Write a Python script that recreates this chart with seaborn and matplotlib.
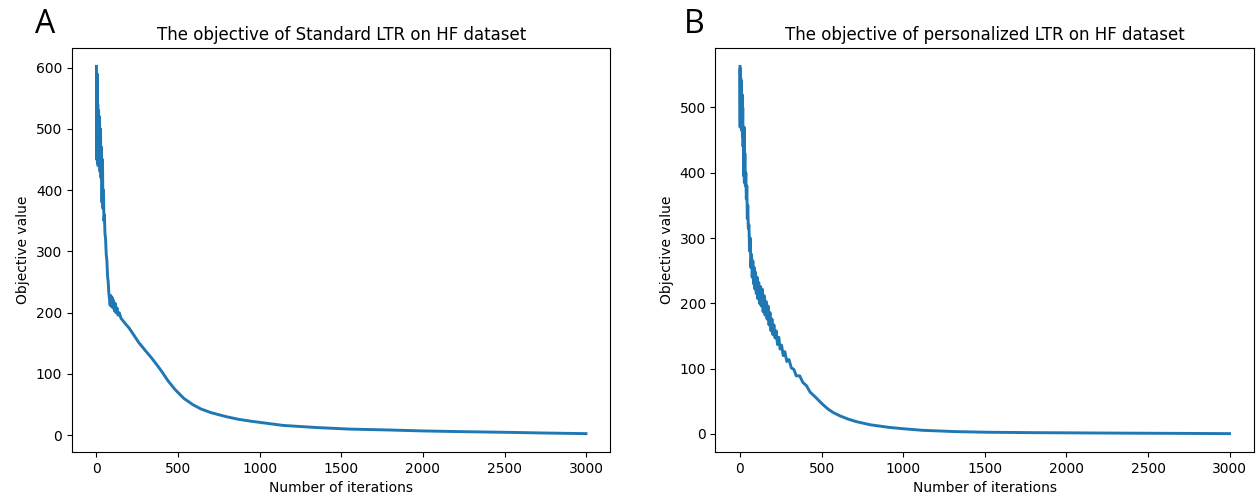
import matplotlib
matplotlib.use("Agg")
import matplotlib.pyplot as plt
import seaborn as sns

# panel A: standard LTR objective (noisy start)
std_iter = [0, 2, 4, 6, 8, 10, 13, 16, 19, 22, 25, 28, 31, 34, 37, 40, 43, 46, 49, 52,
            56, 60, 64, 68, 72, 76, 80, 84, 88, 92, 96, 100, 105, 110, 115, 120, 126, 132,
            140, 150, 165, 180, 200, 230, 260, 300, 335, 370, 400, 438, 480, 536, 590, 639,
            700, 742, 800, 870, 943, 1000, 1144, 1351, 1552, 1800, 2000, 2250, 2500, 2750, 2999]
std_obj = [602, 450, 590, 445, 540, 440, 530, 445, 520, 430, 500, 420, 470, 380, 450, 370, 400, 350, 360, 330,
           320, 295, 285, 260, 250, 232, 222, 212, 228, 210, 225, 208, 220, 203, 215, 200, 208, 196,
           200, 191, 186, 181, 175, 163, 151, 138, 127, 115, 104, 89, 75, 60, 50, 43,
           37, 34, 30, 26, 23, 21, 16, 12.5, 10, 8.5, 7, 5.8, 4.8, 3.6, 2.6]

# panel B: personalized LTR objective
per_iter = [0, 1, 2, 3, 5, 7, 9, 11, 13, 15, 17, 19, 21, 23, 25, 27, 30, 33, 36, 39,
            42, 45, 48, 51, 55, 59, 63, 67, 71, 75, 79, 83, 87, 91, 95, 100, 105, 110, 115,
            120, 125, 130, 136, 142, 148, 154, 160, 166, 172, 178, 184, 190, 196, 202, 208,
            215, 222, 230, 238, 246, 255, 265, 275, 287, 300, 315, 330, 345, 366, 385, 407,
            430, 460, 480, 508, 540, 570, 610, 660, 711, 800, 915, 1000, 1118, 1321, 1524,
            1800, 2100, 2400, 2700, 2999]
per_obj = [563, 470, 560, 480, 545, 470, 540, 465, 520, 455, 500, 440, 470, 395, 470, 385, 430, 380, 400, 360,
           380, 330, 350, 315, 320, 280, 300, 255, 275, 240, 265, 230, 255, 222, 248, 215, 240, 207, 232,
           200, 226, 196, 222, 187, 212, 182, 203, 176, 196, 167, 186, 158, 176, 152, 167,
           147, 158, 137, 148, 130, 136, 120, 126, 111, 114, 101, 99, 89, 89, 79, 74,
           64, 57, 52, 45, 38, 33, 28, 23, 19, 14, 10, 8, 5.6, 3.6, 2.6,
           2.0, 1.6, 1.2, 0.9, 0.5]

titles = ["The objective of Standard LTR on HF dataset",
          "The objective of personalized LTR on HF dataset"]
panel_letters = ["A", "B"]

fig, axes = plt.subplots(1, 2, figsize=(12.56, 5), dpi=100)
plt.subplots_adjust(left=0.0573, right=0.9984, bottom=0.096, top=0.904, wspace=0.195)

series = [(std_iter, std_obj), (per_iter, per_obj)]
for ax, (xs, ys), title in zip(axes, series, titles):
    sns.lineplot(x=xs, y=ys, ax=ax, color="#1f77b4", linewidth=2.1)
    ax.set_title(title, fontsize=12)
    ax.set_xlabel("Number of iterations")
    ax.set_ylabel("Objective value")
    ax.set_xticks([0, 500, 1000, 1500, 2000, 2500, 3000])

letter_font = ["Open Sans", "DejaVu Sans"]
fig.text(0.036, 0.951, panel_letters[0], fontsize=23, family=letter_font,
         ha="center", va="center")
fig.text(0.553, 0.951, panel_letters[1], fontsize=23, family=letter_font,
         ha="center", va="center")

fig.savefig("out.png", dpi=100)
